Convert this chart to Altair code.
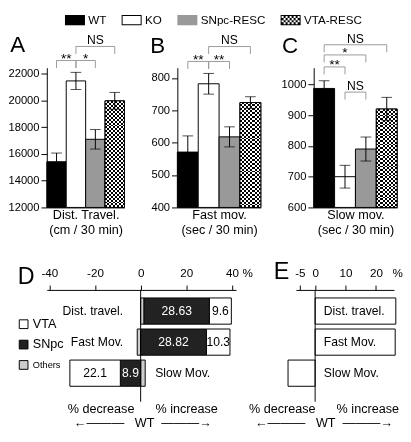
import altair as alt
import pandas as pd

# ---------------- data ----------------
groups = ["WT", "KO", "SNpc-RESC", "VTA-RESC"]
group_colors = ["black", "white", "#999999", "white"]

dist_mean = [15420, 21470, 17100, 19980]
dist_err = [650, 640, 730, 630]
fast_mean = [571, 782, 618, 724]
fast_err = [50, 32, 31, 18]
slow_mean = [987, 700, 790, 920]
slow_err = [25, 37, 39, 38]

panel_letters = ["A", "B", "C"]
panel_xtitles = [["Dist. Travel.", "(cm / 30 min)"],
                 ["Fast mov.", "(sec / 30 min)"],
                 ["Slow mov.", "(sec / 30 min)"]]
panel_ydomains = [[12000, 22460], [400, 831.7], [600, 1054.5]]
panel_yticks = [[12000, 14000, 16000, 18000, 20000, 22000],
                [400, 500, 600, 700, 800],
                [600, 700, 800, 900, 1000]]

brackets_a = [("WT", "KO", 23000, "**"), ("KO", "SNpc-RESC", 23000, "*"),
              ("KO", "VTA-RESC", 24050, "NS")]
brackets_b = [("WT", "KO", 851, "**"), ("KO", "SNpc-RESC", 851, "**"),
              ("KO", "VTA-RESC", 897, "NS")]
brackets_c = [("WT", "VTA-RESC", 1129, "NS"), ("WT", "SNpc-RESC", 1096, "*"),
              ("WT", "KO", 1057, "**"), ("KO", "SNpc-RESC", 975, "NS")]

d_cats = ["Dist. travel.", "Fast Mov.", "Slow Mov."]
d_parts = ["VTA", "SNpc", "Others"]
d_part_colors = ["white", "#222222", "#cccccc"]
d_vta = [9.6, 10.3, -22.1]
d_snpc = [28.63, 28.82, -8.9]
d_others = [1.5, -1.5, 2.0]
e_vals = [26.5, 26.3, -8.9]

# ---------------- styles ----------------
FONT = "Liberation Sans"
PH = 144
panel_widths = [80, 86, 86]
panel_title_x = [-38.2, -28.4, -33.3]
panel_title_y = [-17, -15.4, -16]
BR_COLOR = "#999999"


def stripes(n, a, b):
    stops = []
    for k in range(n):
        c = a if k % 2 == 0 else b
        stops.append(alt.GradientStop(offset=k / n, color=c))
        stops.append(alt.GradientStop(offset=(k + 1) / n, color=c))
    return stops


# legend symbol paths: symbol size 121 -> 1 path unit = 5.5 px
SYM_SIZE = 121
U = 5.5
HW, HH = 10.3 / U, 5.3 / U
IN = 1.0 / U


def rect_path(x0, y0, x1, y1, ccw=False):
    if ccw:
        return f"M{x0:.3f},{y0:.3f}V{y1:.3f}H{x1:.3f}V{y0:.3f}Z"
    return f"M{x0:.3f},{y0:.3f}H{x1:.3f}V{y1:.3f}H{x0:.3f}Z"


RECT = rect_path(-HW, -HH, HW, HH)
FRAME = RECT + rect_path(-HW + IN, -HH + IN, HW - IN, HH - IN, ccw=True)
holes = []
cw = (2 * (HW - IN)) / 9
ch = (2 * (HH - IN)) / 4
for i in range(9):
    for j in range(4):
        if (i + j) % 2 == 0:
            x = -HW + IN + cw * i
            y = -HH + IN + ch * j
            holes.append(rect_path(x, y, x + cw, y + ch, ccw=True))
CHECK = RECT + "".join(holes)
legend_shapes = [RECT, FRAME, RECT, CHECK]
legend_fills = ["black", "black", "#999999", "black"]


def bar_panel(k, mean, err, brackets):
    df = pd.DataFrame({"group": groups, "mean": mean, "err": err,
                       "i": list(range(len(groups)))})
    dom = panel_ydomains[k]
    depth = 7.7 * (dom[1] - dom[0]) / PH
    xs = alt.Scale(domain=[0, len(groups)], nice=False, zero=False)
    ys = alt.Scale(domain=dom, nice=False, zero=False)
    xaxis = alt.Axis(labels=False, ticks=False, domain=True, grid=False,
                     title=panel_xtitles[k], titleFontSize=13,
                     titleFontWeight="normal", titleLineHeight=16, titlePadding=1)
    yaxis = alt.Axis(values=panel_yticks[k], format="d", labelFontSize=11.5,
                     labelPadding=2, tickSize=6, grid=False,
                     title=panel_letters[k], titleAngle=0,
                     titleX=panel_title_x[k], titleY=panel_title_y[k],
                     titleAlign="left", titleBaseline="alphabetic",
                     titleFontSize=23, titleFontWeight="normal")
    base = alt.Chart(df).transform_calculate(
        x0="datum.i", x1="datum.i + 1", xc="datum.i + 0.5",
        lo="datum.mean - datum.err", hi="datum.mean + datum.err")
    bars = base.mark_bar(stroke="black", strokeWidth=1).encode(
        x=alt.X("x0:Q", scale=xs, axis=xaxis), x2="x1:Q",
        y=alt.Y("mean:Q", scale=ys, axis=yaxis), y2=alt.datum(dom[0]),
        color=alt.Color("group:N", scale=alt.Scale(domain=groups, range=group_colors),
                        legend=None))
    vta = base.transform_filter(alt.datum.group == groups[3])
    enc = dict(x=alt.X("x0:Q", axis=None), x2="x1:Q", y=alt.Y("mean:Q", axis=None),
               y2=alt.datum(dom[0]))
    chk1 = vta.mark_bar(fill=alt.LinearGradient(gradient="linear",
                                                stops=stripes(10, "black", "white"),
                                                x1=0, x2=1, y1=0, y2=0),
                        strokeWidth=0).encode(**enc)
    chk2 = vta.mark_bar(fill=alt.LinearGradient(gradient="linear",
                                                stops=stripes(54, "white", "black"),
                                                x1=0, x2=0, y1=0, y2=1),
                        strokeWidth=0, blend="difference").encode(**enc)
    outline = vta.mark_bar(fillOpacity=0, stroke="black", strokeWidth=1).encode(**enc)
    erule = base.mark_rule(color="black", strokeWidth=1).encode(
        x=alt.X("xc:Q", axis=None), y=alt.Y("lo:Q", axis=None), y2="hi:Q")
    cap_hi = base.mark_tick(orient="horizontal", size=11, thickness=1, color="black").encode(
        x=alt.X("xc:Q", axis=None), y=alt.Y("hi:Q", axis=None))
    cap_lo = base.mark_tick(orient="horizontal", size=11, thickness=1, color="black").encode(
        x=alt.X("xc:Q", axis=None), y=alt.Y("lo:Q", axis=None))

    idx = {g: i for i, g in enumerate(groups)}
    br = pd.DataFrame([{"bx1": idx[a] + 0.5, "bx2": idx[b] + 0.5, "level": lv,
                        "xm": (idx[a] + idx[b]) / 2 + 0.5, "label": lab}
                       for a, b, lv, lab in brackets])
    ends = pd.DataFrame([{"tx": idx[g] + 0.5, "level": lv, "low": lv - depth}
                         for a, b, lv, lab in brackets for g in (a, b)])
    hline = alt.Chart(br).mark_rule(color=BR_COLOR, strokeWidth=1).encode(
        x=alt.X("bx1:Q", axis=None), x2="bx2:Q", y=alt.Y("level:Q", axis=None))
    vline = alt.Chart(ends).mark_rule(color=BR_COLOR, strokeWidth=1).encode(
        x=alt.X("tx:Q", axis=None), y=alt.Y("level:Q", axis=None), y2="low:Q")
    ast = alt.Chart(br).transform_filter("datum.label != 'NS'").mark_text(
        fontSize=14, baseline="alphabetic", dy=2.6, color="black").encode(
        x=alt.X("xm:Q", axis=None), y=alt.Y("level:Q", axis=None), text="label:N")
    ns = alt.Chart(br).transform_filter("datum.label == 'NS'").mark_text(
        fontSize=12.5, baseline="alphabetic", dy=-2.2, color="black").encode(
        x=alt.X("xm:Q", axis=None), y=alt.Y("level:Q", axis=None), text="label:N")

    layers = [bars, chk1, chk2, outline, erule, cap_hi, cap_lo, hline, vline, ast, ns]
    return alt.layer(*layers).resolve_axis(x="independent", y="independent").properties(
        width=panel_widths[k], height=PH)


# ---------------- top legend row ----------------
leg = alt.Legend(orient="none", legendX=23, legendY=0, padding=0, direction="horizontal",
                 columns=4, title=None, labelFontSize=12, labelOffset=7.8,
                 columnPadding=14.4, symbolSize=SYM_SIZE, symbolOpacity=1,
                 symbolStrokeWidth=0)
row0 = alt.Chart(pd.DataFrame({"group": groups})).mark_point(filled=True, opacity=0).encode(
    fill=alt.Fill("group:N", scale=alt.Scale(domain=groups, range=legend_fills), legend=leg),
    shape=alt.Shape("group:N", scale=alt.Scale(domain=groups, range=legend_shapes), legend=leg)
).properties(width=1, height=12)

pA = bar_panel(0, dist_mean, dist_err, brackets_a)
pB = bar_panel(1, fast_mean, fast_err, brackets_b)
pC = bar_panel(2, slow_mean, slow_err, brackets_c)
row1 = alt.hconcat(pA, pB, pC, spacing=54.5, bounds="flush")

# ---------------- panel D ----------------
RH = 115.2
nb = "\u00a0"
bottom_l1 = "% decrease" + nb * 6 + "% increase"
bottom_l2 = "\u2190" + "\u2014" * 3 + nb * 3 + "WT" + nb * 2 + "\u2014" * 3 + "\u2192"

rows = []
for i, c in enumerate(d_cats):
    for order, (p, vals) in enumerate((("Others", d_others), ("SNpc", d_snpc), ("VTA", d_vta))):
        rows.append({"cat": c, "part": p, "value": vals[i], "order": order})
ddf = pd.DataFrame(rows)

lab_rows = []
for i, c in enumerate(d_cats):
    net = d_vta[i] + d_snpc[i] + d_others[i]
    lab_rows.append({"cat": c, "anchor": 0, "side": "left" if net > 0 else "right"})
dlab = pd.DataFrame(lab_rows)

band = alt.Scale(domain=d_cats, paddingInner=0, paddingOuter=0.3, align=0.3)


def top_axis(vals, title_x):
    return alt.Axis(orient="top", values=vals, labelExpr="toString(datum.value)",
                    tickSize=5, labelPadding=6, labelFontSize=12, grid=False,
                    domain=True, title="%", titleX=title_x, titleY=-18, titleAngle=0,
                    titleAlign="left", titleBaseline="middle", titleFontSize=12,
                    titleFontWeight="normal")


def bottom_axis(title_x):
    return alt.Axis(orient="bottom", labels=False, ticks=False, domain=False, grid=False,
                    title=[bottom_l1, bottom_l2], titleFontSize=13,
                    titleFontWeight="normal", titleLineHeight=14.5,
                    titleX=title_x, titleY=1, titleAlign="center", titleBaseline="top")


def letter_axis(letter, tx, ty):
    return alt.Axis(labels=False, ticks=False, domain=False, grid=False, title=letter,
                    titleAngle=0, titleX=tx, titleY=ty, titleAlign="left",
                    titleBaseline="alphabetic", titleFontSize=24, titleFontWeight="normal")


dxs = alt.Scale(domain=[-41.1, 41.8], nice=False, zero=False)
legD = alt.Legend(orient="none", legendX=-30.4, legendY=28.8, title=None,
                  direction="vertical", symbolType="square", symbolSize=81,
                  symbolStrokeColor="black", symbolStrokeWidth=1,
                  labelFontSize=alt.ExprRef("datum.label === 'Others' ? 9.5 : 13"),
                  labelOffset=3, rowPadding=7)

dbase = alt.Chart(ddf).transform_stack(
    stack="value", as_=["s0", "s1"], groupby=["cat"],
    sort=[alt.SortField("order", order="ascending")], offset="zero")
dbars = dbase.mark_bar(stroke="black", strokeWidth=1, size=27).encode(
    x=alt.X("s0:Q", scale=dxs, axis=top_axis([-40, -20, 0, 20, 40], 201)), x2="s1:Q",
    y=alt.Y("cat:N", scale=band, axis=letter_axis("D", -30.4, -6.7)),
    color=alt.Color("part:N", scale=alt.Scale(domain=d_parts, range=d_part_colors),
                    legend=legD))
dvals = dbase.transform_filter("datum.part != 'Others'").transform_calculate(
    mid="(datum.s0 + datum.s1) / 2", lab="toString(abs(datum.value))").mark_text(
    fontSize=12.5, baseline="middle").encode(
    x=alt.X("mid:Q", axis=None), y=alt.Y("cat:N", axis=None), text="lab:N",
    color=alt.condition("datum.part == 'SNpc'", alt.value("white"), alt.value("black")))
dlab_l = alt.Chart(dlab).transform_filter("datum.side == 'left'").mark_text(
    align="right", dx=-18, fontSize=12.5, baseline="middle", color="black").encode(
    x=alt.X("anchor:Q", axis=None), y=alt.Y("cat:N", axis=None), text="cat:N")
dlab_r = alt.Chart(dlab).transform_filter("datum.side == 'right'").mark_text(
    align="left", dx=15, fontSize=12.5, baseline="middle", color="black").encode(
    x=alt.X("anchor:Q", axis=None), y=alt.Y("cat:N", axis=None), text="cat:N")
dzero = alt.Chart(pd.DataFrame({"z": [0]})).mark_rule(color="black", strokeWidth=1).encode(
    x=alt.X("z:Q", axis=bottom_axis(98.4)))
pD = alt.layer(dbars, dvals, dlab_l, dlab_r, dzero).resolve_axis(
    x="independent", y="independent").properties(width=195, height=RH)

# ---------------- panel E ----------------
edf = pd.DataFrame({"cat": d_cats, "value": e_vals, "zero": [0] * len(d_cats)})
exs = alt.Scale(domain=[-6.3, 25.9], nice=False, zero=False)
ebars = alt.Chart(edf).mark_bar(fill="white", stroke="black", strokeWidth=1, size=27).encode(
    x=alt.X("value:Q", scale=exs, axis=top_axis([-5, 0, 10, 20], 99)), x2="zero:Q",
    y=alt.Y("cat:N", scale=band, axis=letter_axis("E", -23.5, -11.5)))
elab = alt.Chart(edf).mark_text(align="left", dx=9, fontSize=12.5, baseline="middle",
                                color="black").encode(
    x=alt.X("zero:Q", axis=None), y=alt.Y("cat:N", axis=None), text="cat:N")
ezero = alt.Chart(pd.DataFrame({"z": [0]})).mark_rule(color="black", strokeWidth=1).encode(
    x=alt.X("z:Q", axis=bottom_axis(28.4)))
pE = alt.layer(ebars, elab, ezero).resolve_axis(
    x="independent", y="independent").properties(width=101, height=RH)

row2 = alt.hconcat(pD, pE, spacing=61.7, bounds="flush")

body = alt.vconcat(row1, row2, spacing=24, bounds="full").resolve_scale(color="independent")
chart = alt.vconcat(row0, body, spacing=7, bounds="full").resolve_scale(
    color="independent", fill="independent", shape="independent").properties(
    padding=0).configure(font=FONT).configure_view(stroke=None).configure_axis(
    labelColor="black", tickColor="black", domainColor="black", titleColor="black",
    grid=False).configure_legend(labelColor="black")

chart.save("out.html", embed_options={"renderer": "svg", "actions": False})
